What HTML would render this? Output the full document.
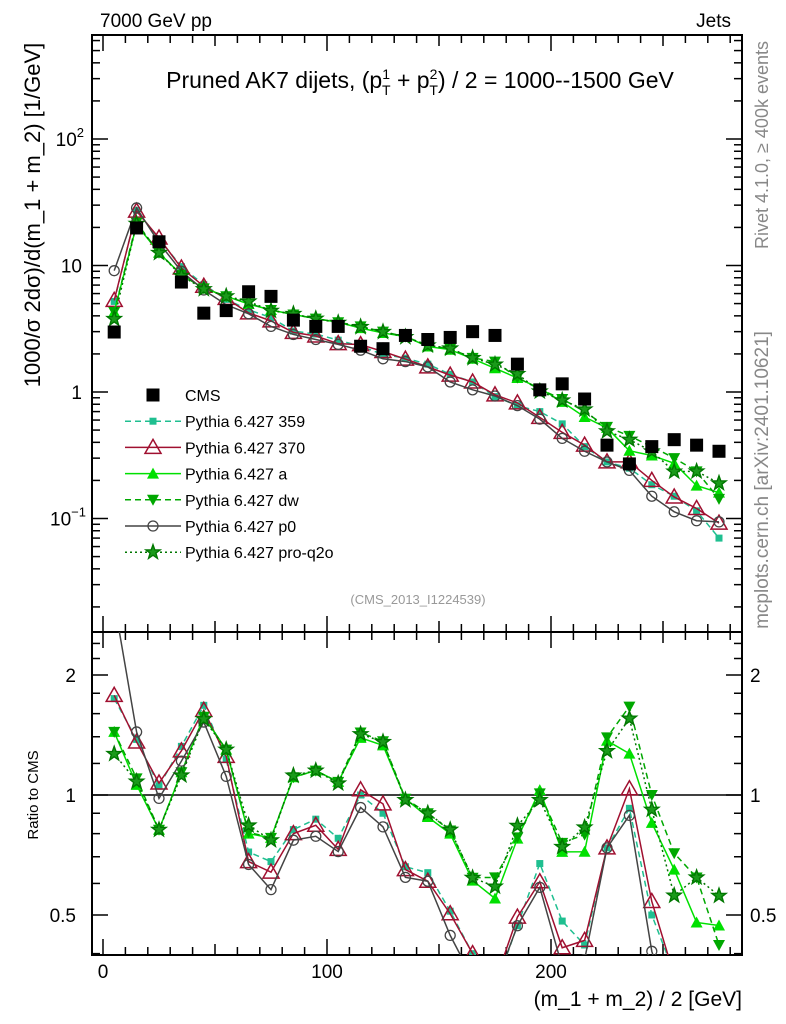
<!DOCTYPE html>
<html><head><meta charset="utf-8"><style>
body{margin:0;background:#fff;}
svg{display:block;font-family:"Liberation Sans",sans-serif;}
</style></head><body>
<svg id="c" width="786" height="1024" viewBox="0 0 786 1024" xmlns="http://www.w3.org/2000/svg">
<defs>
<clipPath id="cm"><rect x="92" y="35" width="650" height="597"/></clipPath>
<clipPath id="cr"><rect x="92" y="632" width="650" height="323"/></clipPath>
</defs>
<text x="100" y="27" font-size="19">7000 GeV pp</text>
<text x="731" y="27" font-size="19" text-anchor="end">Jets</text>
<text x="420" y="88" font-size="23" text-anchor="middle">Pruned AK7 dijets, (p<tspan font-size="14" dy="-9">1</tspan><tspan font-size="14" dx="-8" dy="16">T</tspan><tspan dy="-7"> + p</tspan><tspan font-size="14" dy="-9">2</tspan><tspan font-size="14" dx="-8" dy="16">T</tspan><tspan dy="-7">) / 2 = 1000--1500 GeV</tspan></text>
<text transform="translate(40,215) rotate(-90)" font-size="22" text-anchor="middle">1000/σ   2dσ)/d(m_1 + m_2) [1/GeV]</text>
<text transform="translate(38,795) rotate(-90)" font-size="15" text-anchor="middle">Ratio to CMS</text>
<text x="742" y="1006" font-size="21" text-anchor="end">(m_1 + m_2) / 2 [GeV]</text>
<text transform="translate(768,145) rotate(-90)" font-size="18" fill="#888" text-anchor="middle">Rivet 4.1.0, ≥ 400k events</text>
<text transform="translate(768,480) rotate(-90)" font-size="19" fill="#888" text-anchor="middle">mcplots.cern.ch [arXiv:2401.10621]</text>
<text x="418" y="604" font-size="13" fill="#999" text-anchor="middle">(CMS_2013_I1224539)</text>
<g id="g"></g>
</svg>
<script>
const bins=[5,15,25,35,45,55,65,75,85,95,105,115,125,135,145,155,165,175,185,195,205,215,225,235,245,255,265,275];
const cms=[2.98,19.8,15.4,7.4,4.2,4.4,6.2,5.7,3.7,3.3,3.3,2.3,2.2,2.8,2.6,2.7,3.0,2.8,1.66,1.04,1.16,0.88,0.38,0.27,0.37,0.42,0.38,0.34];
const py359=[5.2,27.3,16.2,9.8,7.05,5.4,4.46,3.88,3.03,2.87,2.57,2.3,1.98,1.85,1.66,1.38,1.20,0.92,0.78,0.70,0.56,0.37,0.28,0.25,0.185,0.15,0.115,0.07];
const py370=[5.3,26.9,16.5,9.55,6.85,5.5,4.22,3.65,2.96,2.77,2.41,2.37,2.09,1.82,1.58,1.36,1.20,0.95,0.82,0.63,0.48,0.38,0.28,0.28,0.20,0.148,0.12,0.092];
const pyA=[4.29,21.0,12.6,8.44,6.6,5.72,4.96,4.45,4.1,3.8,3.56,3.2,2.93,2.74,2.29,2.16,1.83,1.54,1.29,1.07,0.835,0.634,0.52,0.343,0.315,0.273,0.182,0.16];
const pyDW=[4.29,21.8,12.6,8.44,6.6,5.72,5.0,4.45,4.1,3.8,3.56,3.3,3.0,2.74,2.34,2.2,1.86,1.74,1.3,1.05,0.88,0.70,0.53,0.45,0.37,0.30,0.236,0.143];
const pyP0=[9.1,28.5,15.1,9.0,6.4,4.9,4.15,3.3,2.85,2.6,2.38,2.14,1.83,1.74,1.58,1.20,1.04,0.93,0.78,0.61,0.43,0.34,0.28,0.24,0.15,0.113,0.096,0.094];
const pyPro=[3.78,21.4,12.6,8.29,6.51,5.72,5.2,4.39,4.14,3.8,3.53,3.27,2.99,2.72,2.34,2.21,1.86,1.65,1.39,1.01,0.86,0.73,0.49,0.42,0.34,0.235,0.236,0.19];
const xTicks=[0,100,200];
const mainTicks=[["10","2"],["10",""],["1",""],["10","−1"]];
const ratioTicks=[2,1,0.5];

const NS="http://www.w3.org/2000/svg";
const G=document.getElementById('g');
function el(t,a,p){const e=document.createElementNS(NS,t);for(const k in a)e.setAttribute(k,a[k]);(p||G).appendChild(e);return e;}
const X=v=>103+2.24*v;
const Y=v=>392-126.5*Math.log10(v);
const R=v=>795-120*Math.log2(v);
const L=92,Rr=742,T=35,M=632,B=955;

let f1=el('rect',{x:L,y:T,width:Rr-L,height:M-T,fill:'none',stroke:'#000','stroke-width':2});

let f2=el('rect',{x:L,y:M,width:Rr-L,height:B-M,fill:'none',stroke:'#000','stroke-width':2});

for(let v=0;v<=280;v+=10){const x=X(v);const len=v%100===0?16:(v%50===0?11:8);
 [[T,1],[M,-1],[M,1],[B,-1]].forEach(([y0,d])=>el('line',{x1:x,x2:x,y1:y0,y2:y0+d*len,stroke:'#000','stroke-width':1.5}));}
xTicks.forEach(v=>{const t=el('text',{x:X(v),y:978,'font-size':19,'text-anchor':'middle'});t.textContent=v;
 });
for(let e=-2;e<=2;e++)for(let m=1;m<=9;m++){const v=m*Math.pow(10,e);const y=Y(v);if(y<T||y>M)continue;const len=m===1?16:8;
 el('line',{x1:L,x2:L+len,y1:y,y2:y,stroke:'#000','stroke-width':1.5});el('line',{x1:Rr,x2:Rr-len,y1:y,y2:y,stroke:'#000','stroke-width':1.5});}
[2,1,0,-1].forEach((e,i)=>{const y=Y(Math.pow(10,e));const t=el('text',{x:82,y:y+7,'font-size':19,'text-anchor':'end'});
 
 const [b,s]=mainTicks[i];if(s){t.appendChild(document.createTextNode(b));const ts=el('tspan',{dy:-9,'font-size':13},t);ts.textContent=s;t.setAttribute('x',s.length>1?86:84);}else t.textContent=b;});
[0.4,0.5,0.6,0.7,0.8,0.9,1,1.2,1.4,1.6,1.8,2,2.2,2.4].forEach(v=>{const y=R(v);if(y<M||y>B)return;const len=(v===0.5||v===1||v===2)?16:8;
 el('line',{x1:L,x2:L+len,y1:y,y2:y,stroke:'#000','stroke-width':1.5});el('line',{x1:Rr,x2:Rr-len,y1:y,y2:y,stroke:'#000','stroke-width':1.5});});
ratioTicks.forEach(v=>{const y=R(v)+7;
 let t=el('text',{x:76,y:y,'font-size':19,'text-anchor':'end'});t.textContent=v;
 t=el('text',{x:750,y:y,'font-size':19});t.textContent=v;});
el('line',{x1:L,x2:Rr,y1:R(1),y2:R(1),stroke:'#000','stroke-width':1.5});

function marker(p,kind,x,y,col){
 if(kind==='bigsq')return el('rect',{x:x-6.5,y:y-6.5,width:13,height:13,fill:'#000'},p);
 if(kind==='sq')return el('rect',{x:x-3.5,y:y-3.5,width:7,height:7,fill:col},p);
 if(kind==='otri')return el('path',{d:`M${x},${y-8}L${x+8},${y+6}L${x-8},${y+6}Z`,fill:'none',stroke:col,'stroke-width':1.5},p);
 if(kind==='tri')return el('path',{d:`M${x},${y-6}L${x+6},${y+5}L${x-6},${y+5}Z`,fill:col},p);
 if(kind==='dtri')return el('path',{d:`M${x},${y+6}L${x+6},${y-5}L${x-6},${y-5}Z`,fill:col},p);
 if(kind==='circ')return el('circle',{cx:x,cy:y,r:5,fill:'none',stroke:col,'stroke-width':1.3},p);
 if(kind==='star'){let d='';for(let i=0;i<10;i++){const r=i%2?3:7.5,a=-Math.PI/2+i*Math.PI/5;d+=(i?'L':'M')+(x+r*Math.cos(a)).toFixed(1)+','+(y+r*Math.sin(a)).toFixed(1);}
  return el('path',{d:d+'Z',fill:'#1a9a1a',stroke:col,'stroke-width':1.4},p);}
}
const series=[
 {name:'Pythia 6.427 359',key:'py-359',vals:py359,col:'#1fbf90',dash:'6,4',m:'sq'},
 {name:'Pythia 6.427 370',key:'py-370',vals:py370,col:'#a01030',dash:'',m:'otri'},
 {name:'Pythia 6.427 a',key:'py-a',vals:pyA,col:'#00e000',dash:'',m:'tri'},
 {name:'Pythia 6.427 dw',key:'py-dw',vals:pyDW,col:'#00a800',dash:'6,4',m:'dtri'},
 {name:'Pythia 6.427 p0',key:'py-p0',vals:pyP0,col:'#444',dash:'',m:'circ'},
 {name:'Pythia 6.427 pro-q2o',key:'py-pro-q2o',vals:pyPro,col:'#007700',dash:'2,3',m:'star'}];
const gm=el('g',{'clip-path':'url(#cm)'});const gr=el('g',{'clip-path':'url(#cr)'});
series.forEach(s=>{
 const g1=el('g',{},gm);
 const g2=el('g',{},gr);
 el('polyline',{points:bins.map((b,i)=>X(b)+','+Y(s.vals[i])).join(' '),fill:'none',stroke:s.col,'stroke-width':1.5,'stroke-dasharray':s.dash},g1);
 el('polyline',{points:bins.map((b,i)=>X(b)+','+R(s.vals[i]/cms[i])).join(' '),fill:'none',stroke:s.col,'stroke-width':1.5,'stroke-dasharray':s.dash},g2);
 bins.forEach((b,i)=>{const p=marker(g1,s.m,X(b),Y(s.vals[i]),s.col);
  const q=marker(g2,s.m,X(b),R(s.vals[i]/cms[i]),s.col);});
});
const gc=el('g',{},gm);
bins.forEach((b,i)=>{const p=marker(gc,'bigsq',X(b),Y(cms[i]));});
const lg=el('g',{});
const ly0=395,ldy=26.2;
let le=el('g',{},lg);
marker(le,'bigsq',153,ly0);let tt=el('text',{x:185,y:ly0+6,'font-size':16},le);tt.textContent='CMS';
series.forEach((s,i)=>{const y=ly0+ldy*(i+1);const e=el('g',{},lg);
 el('line',{x1:125,x2:181,y1:y,y2:y,stroke:s.col,'stroke-width':1.5,'stroke-dasharray':s.dash},e);marker(e,s.m,153,y,s.col);
 const t=el('text',{x:185,y:y+6,'font-size':16},e);t.textContent=s.name;});
</script>
</body></html>
